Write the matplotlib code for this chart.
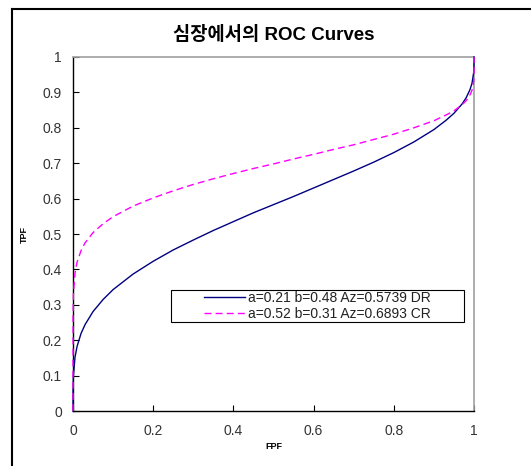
import matplotlib.pyplot as plt
from matplotlib.lines import Line2D
from matplotlib.patches import Rectangle

plt.rcParams["font.family"] = ["Liberation Sans", "Noto Sans CJK KR", "DejaVu Sans"]

fpf = [0, 0.0001, 0.001, 0.005, 0.01, 0.02, 0.03, 0.05, 0.075, 0.1, 0.15, 0.2,
       0.25, 0.3, 0.35, 0.4, 0.45, 0.5, 0.55, 0.6, 0.65, 0.7, 0.75, 0.8, 0.85,
       0.9, 0.93, 0.95, 0.97, 0.98, 0.99, 0.995, 0.999, 0.9999, 1]
tpf_dr = [0, 0.058, 0.100, 0.152, 0.182, 0.219, 0.244, 0.281, 0.315, 0.343,
          0.387, 0.423, 0.455, 0.483, 0.510, 0.535, 0.560, 0.583, 0.606, 0.630,
          0.654, 0.678, 0.703, 0.730, 0.760, 0.795, 0.821, 0.841, 0.867, 0.884,
          0.908, 0.926, 0.955, 0.977, 1]
tpf_cr = [0, 0.263, 0.331, 0.390, 0.420, 0.453, 0.475, 0.504, 0.529, 0.549,
          0.579, 0.602, 0.622, 0.640, 0.656, 0.671, 0.685, 0.698, 0.712, 0.725,
          0.739, 0.752, 0.767, 0.782, 0.800, 0.820, 0.836, 0.848, 0.865, 0.876,
          0.893, 0.906, 0.930, 0.953, 1]

label_dr = "a=0.21 b=0.48 Az=0.5739 DR"
label_cr = "a=0.52 b=0.31 Az=0.6893 CR"
ticks = [0, 0.1, 0.2, 0.3, 0.4, 0.5, 0.6, 0.7, 0.8, 0.9, 1]
xticks = [0, 0.2, 0.4, 0.6, 0.8, 1]

fig = plt.figure(figsize=(5.31, 4.66), dpi=100)
ax = fig.add_axes([0.1375, 0.118, 0.7552, 0.7597])

ax.plot(fpf, tpf_dr, color="#000080", lw=1.0, label=label_dr, clip_on=False,
        zorder=3)
ax.plot(fpf, tpf_cr, color="#ff00ff", lw=1.0, ls=(0, (5, 3)), label=label_cr,
        clip_on=False, zorder=3)

ax.set_xlim(0, 1)
ax.set_ylim(0, 1)
ax.set_xticks(xticks)
ax.set_xticklabels(["0", "0.2", "0.4", "0.6", "0.8", "1"])
ax.set_yticks(ticks)
ax.set_yticklabels(["0", "0.1", "0.2", "0.3", "0.4", "0.5", "0.6", "0.7", "0.8", "0.9", "1"])
ax.tick_params(direction="in", length=4, width=0.8, labelsize=10,
               labelcolor="#333333", pad=8)
ax.tick_params(axis="x", pad=9)

for side in ["left", "bottom"]:
    ax.spines[side].set_color("black")
    ax.spines[side].set_linewidth(1.0)
for side in ["top", "right"]:
    ax.spines[side].set_color("#a0a0a0")
    ax.spines[side].set_linewidth(1.2)

ax.set_xlabel("FPF", fontsize=6.5, fontweight="bold", labelpad=3)
ax.set_ylabel("TPF", fontsize=6.5, fontweight="bold", labelpad=10)
ax.set_title("심장에서의 ROC Curves", fontsize=13.5, fontweight="bold", pad=12)

# legend box drawn separately, entries centred inside it
box_x, box_y, box_w, box_h = 0.244, 0.251, 0.731, 0.091
ax.add_patch(Rectangle((box_x, box_y), box_w, box_h, transform=ax.transAxes,
                       facecolor="white", edgecolor="black", lw=0.8, zorder=4))
leg = ax.legend(loc="center", bbox_to_anchor=(box_x + box_w / 2, box_y + box_h / 2),
                fontsize=10, frameon=False, handlelength=3.0,
                handletextpad=0.2, borderaxespad=0, borderpad=0,
                labelspacing=0.1)
leg.set_zorder(5)
for t in leg.get_texts():
    t.set_color("#222222")

# outer chart frame (top and left edges only visible)
fig.add_artist(Line2D([0.022, 1.0], [0.981, 0.981], color="black", lw=1.5,
                      transform=fig.transFigure))
fig.add_artist(Line2D([0.022, 0.022], [0.0, 0.981], color="black", lw=1.5,
                      transform=fig.transFigure))

fig.savefig("out.png", dpi=100)
